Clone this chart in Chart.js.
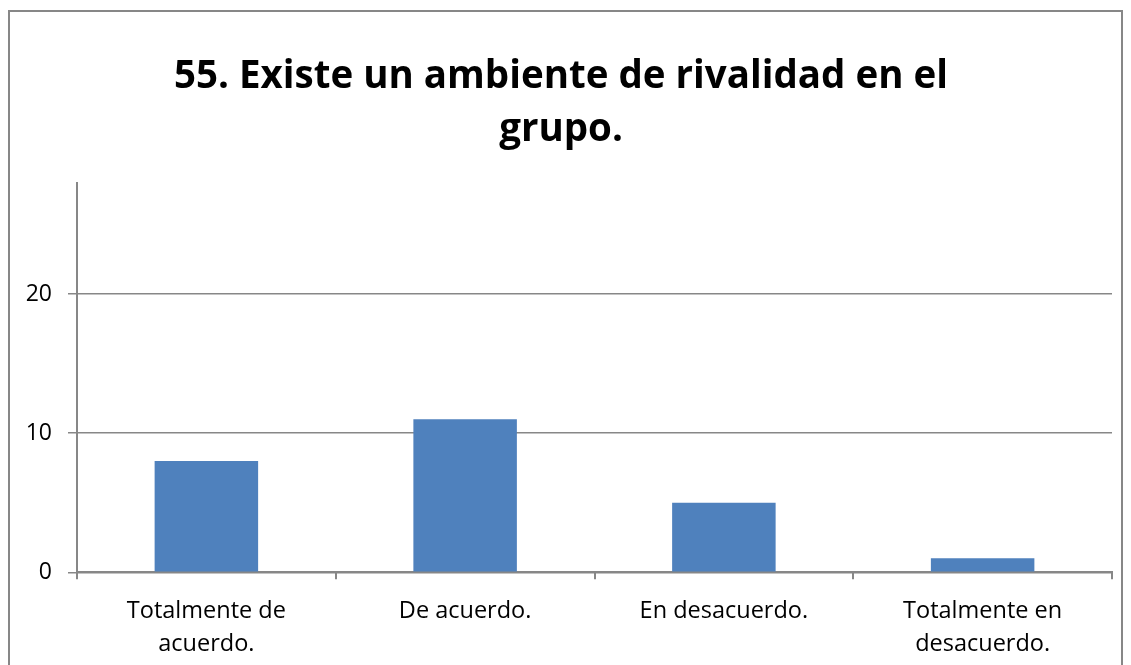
<!DOCTYPE html>
<html>
<head>
<meta charset="utf-8">
<script src="https://cdn.jsdelivr.net/npm/chart.js@4/dist/chart.umd.min.js"></script>
<style>
  html, body { margin: 0; padding: 0; background: #fff; overflow: hidden; }
  #frame {
    position: absolute; left: 8px; top: 10px;
    width: 1111px; height: 664px;
    border: 2px solid #878787;
    background: #fff;
  }
</style>
</head>
<body>
<div id="frame"><canvas id="chart" width="1111" height="664"></canvas></div>
<script>
const titleLines = ['55. Existe un ambiente de rivalidad en el', 'grupo.'];
const categories = [
    ['Totalmente de', 'acuerdo.'],
    ['De acuerdo.'],
    ['En desacuerdo.'],
    ['Totalmente en', 'desacuerdo.']
];
const counts = [8, 11, 5, 1];
const yMax = 28;
const yStep = 10;

const axisGray = '#878787';
const fontFamily = "'Open Sans', 'Noto Sans', sans-serif";

const ctx = document.getElementById('chart').getContext('2d');
new Chart(ctx, {
    type: 'bar',
    data: {
        labels: categories,
        datasets: [{
            data: counts,
            backgroundColor: '#4f81bd',
            borderWidth: 0,
            barPercentage: 0.4,
            categoryPercentage: 1.0
        }]
    },
    options: {
        responsive: false,
        animation: false,
        layout: { padding: { left: 0, right: 9, top: 0, bottom: 0 } },
        plugins: {
            legend: { display: false },
            tooltip: { enabled: false },
            title: {
                display: true,
                text: titleLines,
                color: '#000',
                font: { family: fontFamily, size: 38.5, weight: 'bold', lineHeight: 1.36 },
                padding: { top: 39, bottom: 27 }
            }
        },
        scales: {
            x: {
                grid: {
                    offset: true,
                    drawOnChartArea: false,
                    drawTicks: true,
                    tickLength: 7,
                    color: axisGray,
                    lineWidth: 2
                },
                border: { color: axisGray, width: 2 },
                ticks: {
                    color: '#000',
                    maxRotation: 0,
                    autoSkip: false,
                    padding: 15,
                    font: { family: fontFamily, size: 23.5, lineHeight: 1.42 }
                }
            },
            y: {
                min: 0,
                max: yMax,
                afterFit: function(scale) { scale.width = 67; },
                grid: {
                    color: axisGray,
                    lineWidth: 1.5,
                    tickLength: 9
                },
                border: { color: axisGray, width: 2 },
                ticks: {
                    stepSize: yStep,
                    includeBounds: false,
                    color: '#000',
                    padding: 16,
                    font: { family: fontFamily, size: 23 }
                }
            }
        }
    }
});
</script>
</body>
</html>
